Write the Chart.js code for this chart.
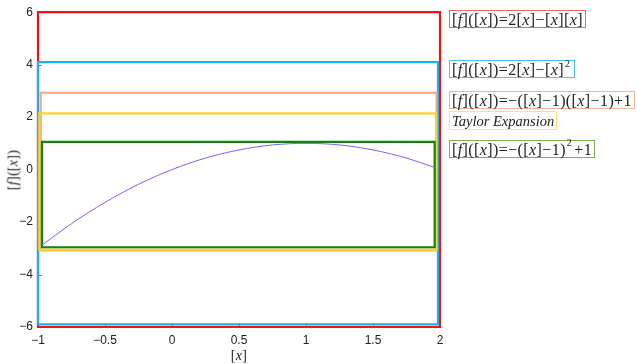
<!DOCTYPE html>
<html>
<head>
<meta charset="utf-8">
<script src="https://cdn.jsdelivr.net/npm/chart.js@4/dist/chart.umd.min.js"></script>
<style>
  html, body { margin: 0; padding: 0; background: #fff; }
  #wrap { position: relative; width: 637px; height: 364px; }
  canvas { position: absolute; left: 0; top: 0; }
  .lab { position: absolute; font-family: "Liberation Serif", "DejaVu Serif", serif; font-size: 16px; color: #222; white-space: nowrap; line-height: 15px; letter-spacing: 0.4px; }
  .box { border: 1.5px solid; padding: 1px 2px 0 2px; background: #fff; }
  .lab i { font-style: italic; }
  .lab sup { font-size: 10px; line-height: 0; position: relative; top: -2px; margin: 0 2px 0 1px; }
  .lab .tx { font-size: 14.5px; letter-spacing: 0; }
  .axt { font-size: 14px; letter-spacing: 0.3px; }
  #ytitle { transform: translate(-50%, -50%) rotate(-90deg); }
  #xtitle { transform: translateX(-50%); }
</style>
</head>
<body>
<div id="wrap">
  <canvas id="chart" width="637" height="364"></canvas>
</div>
<script>
// axis ranges and ticks
const xRange = [-1, 2];
const yRange = [-6, 6];
const xStep = 0.5;
const yStep = 2;

// rectangles: red, blue, orange, yellow, green
const boxLeft   = [-1, -1, -0.98, -0.99, -0.97];
const boxRight  = [2, 1.985, 1.975, 1.97, 1.96];
const boxBottom = [-6, -5.9, -3.08, -3.05, -2.96];
const boxTop    = [6, 4.1, 2.93, 2.14, 1.06];
const boxColors = ['#f01414', '#16b2f2', '#f9a47e', '#ffd12c', '#138213'];
const boxBorders = ['#f06464', '#4ec3f2', '#f7b494', '#ffe07a', '#78b04a'];
const boxLabels = [
  '[<i>f</i>]([<i>x</i>])=2[<i>x</i>]&minus;[<i>x</i>][<i>x</i>]',
  '[<i>f</i>]([<i>x</i>])=2[<i>x</i>]&minus;[<i>x</i>]<sup>2</sup>',
  '[<i>f</i>]([<i>x</i>])=&minus;([<i>x</i>]&minus;1)([<i>x</i>]&minus;1)+1',
  '<i class="tx">Taylor Expansion</i>',
  '[<i>f</i>]([<i>x</i>])=&minus;([<i>x</i>]&minus;1)<sup>2</sup>+1',
];

// the thin blue curve
const curveX = [-0.97, -0.75, -0.5, -0.25, 0, 0.25, 0.5, 0.75, 1, 1.25, 1.5, 1.75, 1.96];
const curveY = [-2.88, -2.06, -1.25, -0.56, 0, 0.44, 0.75, 0.94, 1.0, 0.94, 0.75, 0.44, 0.08];

const wrap = document.getElementById('wrap');
const labelEls = boxLabels.map((html, i) => {
  const d = document.createElement('div');
  d.className = 'lab box';
  d.style.borderColor = boxBorders[i];
  d.innerHTML = html;
  wrap.appendChild(d);
  return d;
});
const xTitle = document.createElement('div');
xTitle.className = 'lab axt'; xTitle.id = 'xtitle';
xTitle.innerHTML = '[<i>x</i>]';
wrap.appendChild(xTitle);
const yTitle = document.createElement('div');
yTitle.className = 'lab axt'; yTitle.id = 'ytitle';
yTitle.innerHTML = '[<i>f</i>]([<i>x</i>])';
wrap.appendChild(yTitle);

function rectPoints(i) {
  return [
    { x: boxLeft[i], y: boxTop[i] },
    { x: boxRight[i], y: boxTop[i] },
    { x: boxRight[i], y: boxBottom[i] },
    { x: boxLeft[i], y: boxBottom[i] },
    { x: boxLeft[i], y: boxTop[i] },
  ];
}

const datasets = [{
  data: curveX.map((x, i) => ({ x, y: curveY[i] })),
  borderColor: '#6a6aff', borderWidth: 1, cubicInterpolationMode: 'monotone',
  order: 0,
}];
boxColors.forEach((c, i) => {
  datasets.push({
    data: rectPoints(i),
    borderColor: c, borderWidth: 2.2,
    borderJoinStyle: 'miter', borderCapStyle: 'square',
    order: 5 - i,
  });
});

const fmt = v => String(v).replace('-', '\u2212');

const inwardTicks = {
  id: 'inwardTicks',
  beforeDatasetsDraw(chart) {
    const { ctx, scales: { x, y }, chartArea: a } = chart;
    ctx.save();
    ctx.strokeStyle = '#888';
    ctx.lineWidth = 1;
    ctx.beginPath();
    for (let v = xRange[0]; v <= xRange[1] + 1e-9; v += xStep) {
      const px = Math.round(x.getPixelForValue(v)) + 0.5;
      ctx.moveTo(px, a.bottom); ctx.lineTo(px, a.bottom - 4);
    }
    for (let v = yRange[0]; v <= yRange[1] + 1e-9; v += yStep) {
      const py = Math.round(y.getPixelForValue(v)) + 0.5;
      ctx.moveTo(a.left, py); ctx.lineTo(a.left + 4, py);
    }
    ctx.stroke();
    ctx.restore();
  },
  afterRender(chart) {
    const { scales: { x, y }, chartArea: a } = chart;
    labelEls.forEach((el, i) => {
      el.style.left = (a.right + 9) + 'px';
      el.style.top = (y.getPixelForValue(boxTop[i]) - 2) + 'px';
    });
    xTitle.style.left = ((a.left + a.right) / 2) + 'px';
    xTitle.style.top = (a.bottom + 21) + 'px';
    yTitle.style.left = '13px';
    yTitle.style.top = ((a.top + a.bottom) / 2) + 'px';
  },
};

new Chart(document.getElementById('chart'), {
  type: 'line',
  data: { datasets },
  options: {
    responsive: false,
    animation: false,
    layout: { padding: { top: 12, right: 197, left: 0, bottom: 0 } },
    plugins: { legend: { display: false }, tooltip: { enabled: false } },
    elements: { point: { radius: 0 }, line: { tension: 0 } },
    datasets: { line: { clip: false, fill: false } },
    scales: {
      x: {
        type: 'linear', min: xRange[0], max: xRange[1],
        afterFit: s => { s.height = 37; },
        grid: { display: false, drawTicks: false },
        border: { display: true, color: '#999', width: 1 },
        ticks: { stepSize: xStep, color: '#222', padding: 6, maxRotation: 0,
          font: { family: 'Liberation Sans', size: 12 }, callback: fmt },
      },
      y: {
        type: 'linear', min: yRange[0], max: yRange[1],
        afterFit: s => { s.width = 38; },
        grid: { display: false, drawTicks: false },
        border: { display: true, color: '#999', width: 1 },
        ticks: { stepSize: yStep, color: '#222', padding: 5,
          font: { family: 'Liberation Sans', size: 12 }, callback: fmt },
      },
    },
  },
  plugins: [inwardTicks],
});
</script>
</body>
</html>
